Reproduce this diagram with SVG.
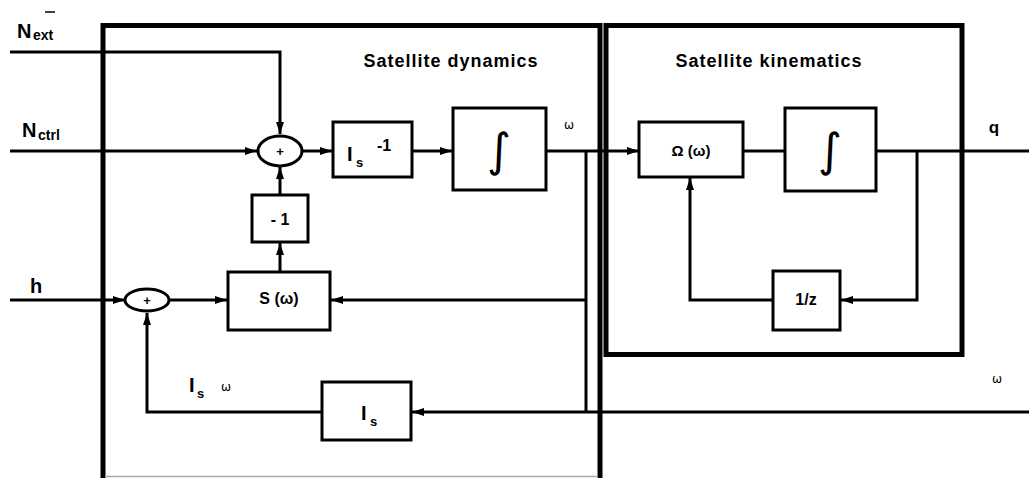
<svg xmlns="http://www.w3.org/2000/svg" width="1029" height="478" viewBox="0 0 1029 478">
<style>
.frame{fill:none;stroke:#000;stroke-width:5}
.blk{fill:#fff;stroke:#000;stroke-width:3}
.w{fill:none;stroke:#000;stroke-width:3}
.t{font-family:"Liberation Sans",Arial,sans-serif;font-weight:bold;fill:#000}
.title{font-size:18px;letter-spacing:1px}
.g{font-family:"DejaVu Sans","Liberation Serif",serif;fill:#000}
</style>
<defs>
<marker id="ah" viewBox="0 0 12 8" refX="12" refY="4" markerWidth="12" markerHeight="8" markerUnits="userSpaceOnUse" orient="auto">
<path d="M0,0 L12,4 L0,8 Z" fill="#000"/>
</marker>
</defs>
<rect width="1029" height="478" fill="#fff"/>
<g id="frames">
<path d="M103,478 V25.5 H600 V478" class="frame"/>
<line x1="105" y1="476.5" x2="598" y2="476.5" stroke="#aaa" stroke-width="1.5"/>
<rect x="606" y="25.5" width="356" height="329" class="frame"/>
<text x="451" y="67" class="t title" text-anchor="middle">Satellite dynamics</text>
<text x="769" y="67" class="t title" text-anchor="middle">Satellite kinematics</text>
</g>
<g id="connectors">
<path d="M10,52 H280 V134" class="w" marker-end="url(#ah)"/>
<line x1="10" y1="151" x2="257" y2="151" class="w" marker-end="url(#ah)"/>
<line x1="302" y1="151" x2="332" y2="151" class="w" marker-end="url(#ah)"/>
<line x1="412" y1="151" x2="452" y2="151" class="w" marker-end="url(#ah)"/>
<line x1="546" y1="151" x2="639" y2="151" class="w" marker-end="url(#ah)"/>
<line x1="743" y1="151" x2="785" y2="151" class="w"/>
<line x1="876" y1="151" x2="1029" y2="151" class="w"/>
<path d="M917,151 V300 H841" class="w" marker-end="url(#ah)"/>
<path d="M773,300 H690 V178" class="w" marker-end="url(#ah)"/>
<path d="M586,151 V412" class="w"/>
<line x1="586" y1="300" x2="331" y2="300" class="w" marker-end="url(#ah)"/>
<line x1="1029" y1="412" x2="412" y2="412" class="w" marker-end="url(#ah)"/>
<path d="M322,412 H147 V313" class="w" marker-end="url(#ah)"/>
<line x1="10" y1="300" x2="125" y2="300" class="w" marker-end="url(#ah)"/>
<line x1="169" y1="300" x2="227" y2="300" class="w" marker-end="url(#ah)"/>
<line x1="280" y1="272" x2="280" y2="243" class="w" marker-end="url(#ah)"/>
<line x1="280" y1="195" x2="280" y2="167" class="w" marker-end="url(#ah)"/>
</g>
<g id="sum1">
<ellipse cx="280" cy="151" rx="22" ry="15" class="blk"/>
<text x="280" y="156" class="t" font-size="13" text-anchor="middle">+</text>
</g>
<g id="inv-inertia">
<rect x="333" y="122" width="79" height="55" class="blk"/>
<text x="347" y="161" class="t" font-size="20">I</text>
<text x="356" y="167" class="t" font-size="13">s</text>
<text x="377" y="151" class="t" font-size="16">-1</text>
</g>
<g id="integrator1">
<rect x="453" y="108" width="93" height="82" class="blk"/>
<text x="499" y="166" class="g" font-size="46" text-anchor="middle">∫</text>
</g>
<text x="569" y="129" class="g" font-size="12" text-anchor="middle">ω</text>
<g id="omega-matrix">
<rect x="639" y="122" width="104" height="55" class="blk"/>
<text x="691" y="156" class="t" font-size="15" text-anchor="middle">Ω (ω)</text>
</g>
<g id="integrator2">
<rect x="785" y="108" width="91" height="83" class="blk"/>
<text x="830" y="166" class="g" font-size="46" text-anchor="middle">∫</text>
</g>
<text x="994" y="133" class="t" font-size="17" text-anchor="middle">q</text>
<g id="delay">
<rect x="773" y="271" width="67" height="59" class="blk"/>
<text x="806" y="305" class="t" font-size="16" text-anchor="middle">1/z</text>
</g>
<g id="minus-one">
<rect x="252" y="195" width="56" height="47" class="blk"/>
<text x="280" y="225" class="t" font-size="16" text-anchor="middle">- 1</text>
</g>
<g id="skew">
<rect x="228" y="272" width="102" height="58" class="blk"/>
<text x="279" y="304" class="t" font-size="16" text-anchor="middle">S (ω)</text>
</g>
<g id="sum2">
<ellipse cx="147" cy="300" rx="22" ry="11" class="blk"/>
<text x="147" y="305" class="t" font-size="13" text-anchor="middle">+</text>
</g>
<g id="inertia">
<rect x="322" y="382" width="89" height="58" class="blk"/>
<text x="361" y="420" class="t" font-size="20">I</text>
<text x="370" y="426" class="t" font-size="13">s</text>
</g>
<g id="labels">
<text x="17" y="38" class="t" font-size="20">N</text>
<text x="33" y="40" class="t" font-size="14">ext</text>
<line x1="45" y1="12" x2="55" y2="12" stroke="#000" stroke-width="1.5"/>
<text x="22" y="137" class="t" font-size="20">N</text>
<text x="38" y="140" class="t" font-size="14">ctrl</text>
<text x="30" y="293" class="t" font-size="20">h</text>
<text x="189" y="392" class="t" font-size="20">I</text>
<text x="197" y="398" class="t" font-size="13">s</text>
<text x="226" y="391" class="g" font-size="12" text-anchor="middle">ω</text>
<text x="997" y="383" class="g" font-size="12" text-anchor="middle">ω</text>
</g>
</svg>
